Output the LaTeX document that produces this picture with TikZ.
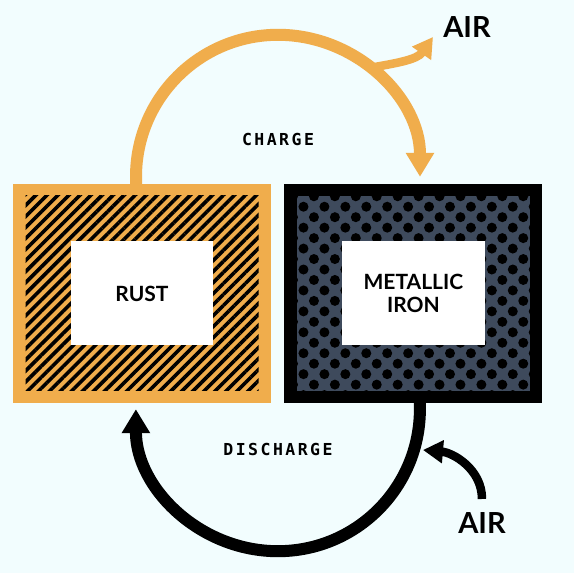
\documentclass[tikz,border=0pt]{standalone}
\usepackage{fontspec}
\setmainfont{Lato}
\newfontfamily\stepfont{DejaVu Sans Mono}[LetterSpace=15]
\usetikzlibrary{arrows.meta, positioning, calc, patterns.meta}

\definecolor{paper}{RGB}{242,253,254}
\definecolor{rustc}{RGB}{240,173,76}
\definecolor{slate}{RGB}{62,74,92}

\begin{document}
\begin{tikzpicture}[x=1pt, y=1pt,
      cell/.style ={rectangle, inner sep=0pt, minimum width=258pt, minimum height=219pt},
      field/.style={rectangle, inner sep=0pt, minimum width=233pt, minimum height=195pt},
      core/.style ={rectangle, fill=white, inner sep=0pt, minimum width=142pt, minimum height=104pt,
                    align=center, font=\bfseries\fontsize{21}{23}\selectfont},
      phase/.style={font=\stepfont\bfseries\fontsize{16.5}{18}\selectfont},
      gas/.style  ={font=\bfseries\fontsize{29}{30}\selectfont},
      flow/.style ={line width=12pt, -{Triangle[width=27pt, length=24pt]}},
      vent/.style ={line width=8.5pt, -{Triangle[width=22pt, length=20pt]}},
      node distance=13pt
    ]

    % Bakgrunn
    \fill[paper] (0,0) rectangle (574,573);
    \useasboundingbox (0,0) rectangle (574,573);

    % To celler
    \node[cell, fill=rustc]               (rust) at (142,279.5) {};
    \node[cell, fill=black, right=of rust] (iron) {};

    \node[field, preaction={fill=rustc}, pattern color=black,
          pattern={Lines[angle=45, distance=7.8pt, line width=3.6pt]}] (rustfield) at (rust) {};
    \node[field, preaction={fill=slate}, pattern color=black,
          pattern={Dots[radius=5pt, distance=14.8pt, angle=45]}] (ironfield) at (iron) {};

    \node[core]                      (rustlbl) at (rust) {RUST};
    \node[core, minimum width=143pt] (ironlbl) at (iron) {METALLIC\\IRON};

    % Lading
    \coordinate (hubTop) at ($(rust.north)!0.5!(iron.north)+(0,7)$);
    \coordinate (fork)   at ($(hubTop)+(50:142)$);
    \draw[flow, rustc] ([xshift=-6pt]rust.north) -- ++(0,7) arc[start angle=180, end angle=0, radius=142];
    \node[phase] (charge) at (278,434) {CHARGE};

    \node[gas] (airOut) at (467,546) {AIR};
    \coordinate (ventTip) at (433,536);
    \draw[vent, rustc] (fork) to[out=10, in=235] (ventTip);

    % Utlading
    \draw[flow] ([xshift=6.5pt]iron.south) -- ++(0,-6) arc[start angle=0, end angle=-180, radius=142];
    \node[phase] (discharge) at (278,124) {DISCHARGE};

    \node[gas] (airIn) at (482,50) {AIR};
    \coordinate (intake) at (423,123);
    \draw[vent] ([yshift=10pt]airIn.north) to[out=90, in=-5] (intake);

  \end{tikzpicture}
\end{document}
